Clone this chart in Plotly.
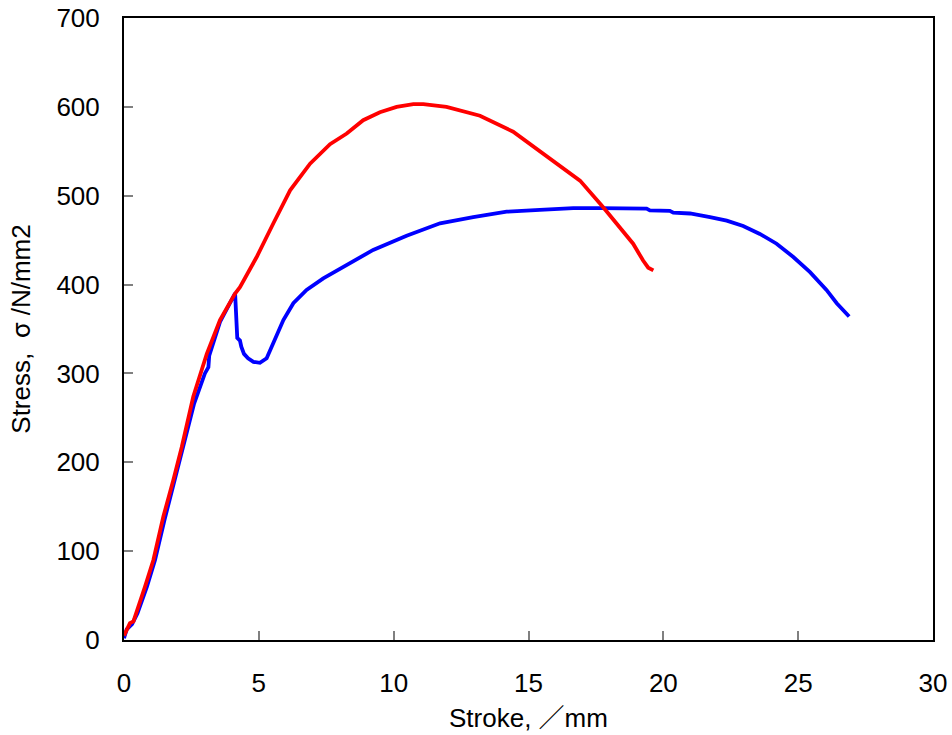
import plotly.graph_objects as go

# Red specimen
red_x = [0.0, 0.04, 0.22, 0.35, 0.55, 0.78, 1.09, 1.46, 1.83, 2.14, 2.57, 3.07, 3.56, 4.12, 4.30,
         4.61, 4.92, 5.54, 6.16, 6.90, 7.64, 8.26, 8.87, 9.49, 10.11, 10.73, 11.10, 11.96, 13.2,
         14.43, 15.67, 16.91, 17.77, 18.39, 18.88, 19.25, 19.44, 19.63]
red_y = [5, 8, 19, 21, 38, 60, 90, 139, 180, 217, 274, 322, 360, 390, 397,
         414, 431, 469, 506, 536, 558, 570, 585, 594, 600, 603, 603, 600, 590,
         572, 545, 517, 487, 465, 446, 427, 419, 416]

# Blue specimen
blue_x = [0.0, 0.1, 0.3, 0.5, 0.85, 1.15, 1.5, 1.87, 2.25, 2.6, 3.0, 3.13, 3.16, 3.56, 4.12,
          4.15, 4.2, 4.3, 4.35, 4.45, 4.6, 4.8, 5.04, 5.29, 5.54, 5.91, 6.28, 6.77, 7.39, 8.01,
          9.24, 10.48, 11.72, 12.95, 14.19, 15.42, 16.66, 17.65, 19.38, 19.5, 20.24, 20.37,
          20.99, 21.73, 22.35, 22.96, 23.58, 24.2, 24.82, 25.44, 26.05, 26.43, 26.89]
blue_y = [2, 12, 18, 30, 60, 90, 135, 178, 222, 266, 300, 307, 320, 358, 390,
          365, 340, 337, 330, 322, 317, 313, 312, 317, 334, 360, 379, 394, 407, 418,
          439, 455, 469, 476, 482, 484, 486, 486, 485.5, 483.5, 483, 481,
          480, 476, 472, 466, 457, 446, 431, 414, 394, 379, 364]

x_ticks = [0, 5, 10, 15, 20, 25, 30]
y_ticks = [0, 100, 200, 300, 400, 500, 600, 700]

fig = go.Figure()
fig.add_trace(go.Scatter(x=blue_x, y=blue_y, mode="lines",
                         line=dict(color="#0000ff", width=3.8), showlegend=False))
fig.add_trace(go.Scatter(x=red_x, y=red_y, mode="lines",
                         line=dict(color="#ff0000", width=3.8), showlegend=False))

fam = "Liberation Sans, Arial, Noto Sans CJK JP, sans-serif"
tick_font = dict(family=fam, size=26, color="black")
title_font = dict(family=fam, size=26, color="black")
y_title = ("Stress,  <span style=\"font-family:'Noto Sans CJK JP'\">σ</span> /N/mm2")
fig.update_layout(
    width=952, height=735,
    margin=dict(l=124, r=19, t=18, b=95),
    paper_bgcolor="white", plot_bgcolor="white",
    font=tick_font,
    xaxis=dict(range=[0, 30], tickvals=x_ticks, ticks="inside", ticklen=9, tickwidth=1.5,
               tickcolor="#808080", showline=True, linecolor="black", linewidth=2,
               mirror=True, showgrid=False, zeroline=False, automargin=False,
               tickfont=tick_font, ticklabeloverflow="allow",
               title=dict(text="Stroke, ／mm", font=title_font, standoff=12),
               ticklabelstandoff=19),
    yaxis=dict(range=[0, 700], tickvals=y_ticks, ticks="inside", ticklen=9, tickwidth=1.5,
               tickcolor="#808080", showline=True, linecolor="black", linewidth=2,
               mirror=True, showgrid=False, zeroline=False, automargin=False,
               tickfont=tick_font, ticklabeloverflow="allow",
               title=dict(text=y_title, font=title_font, standoff=19),
               ticklabelstandoff=17),
)
fig.write_html("out.html", config={"displayModeBar": False},
               post_script="document.body.style.margin='0';document.body.style.overflow='hidden';")
